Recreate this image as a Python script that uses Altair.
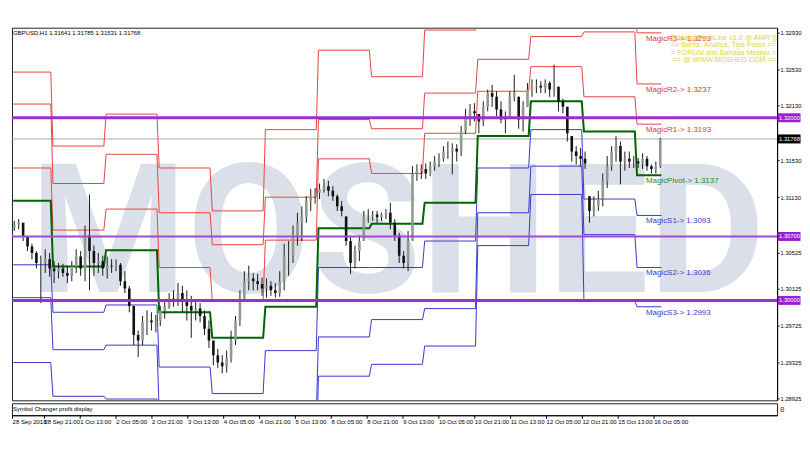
import altair as alt
import pandas as pd

# ---------------- data ----------------
title_text = "GBPUSD,H1  1.31641 1.31785 1.31531 1.31768"
watermark_text = "MOSHED"
info_lines = ["[[ MagicPivotLine v1.0 @ AMR ]]",
              "=> Berita, Analisa, Tips Forex <=",
              "= FORUM dlm Bahasa Melayu =",
              "=> @ WWW.MOSHED.COM <="]
subpanel_text = "Symbol Changer profit display"

x_tick_labels = ["28 Sep 2018", "28 Sep 21:00", "1 Oct 13:00", "2 Oct 05:00", "2 Oct 21:00",
                 "3 Oct 13:00", "4 Oct 05:00", "4 Oct 21:00", "5 Oct 13:00", "8 Oct 05:00",
                 "8 Oct 21:00", "9 Oct 13:00", "10 Oct 05:00", "10 Oct 21:00", "11 Oct 13:00",
                 "12 Oct 05:00", "12 Oct 21:00", "15 Oct 13:00", "16 Oct 05:00"]
bars_per_label = 16

y_tick_values = [1.32930, 1.32730, 1.32530, 1.32330, 1.32130, 1.31930, 1.31530, 1.31330,
                 1.31130, 1.30925, 1.30525, 1.30325, 1.30125, 1.29925, 1.29725, 1.29525,
                 1.29325, 1.29125, 1.28925]

current_price = 1.31768
thick_levels = [1.32000, 1.30000]
thin_levels = [1.30700]

# 2-hour candles (each covers two H1 bars)
candle_high = [1.3087, 1.3089, 1.3085, 1.3071, 1.3062, 1.3054, 1.3049, 1.3056, 1.3052, 1.3043,
               1.3041, 1.3040, 1.3038, 1.3043, 1.3056, 1.3054, 1.3082, 1.3116, 1.3060, 1.3052,
               1.3049, 1.3048, 1.3045, 1.3045, 1.3041, 1.3032, 1.3016, 1.2994, 1.2967, 1.2983,
               1.2989, 1.2987, 1.2984, 1.2994, 1.3000, 1.3008, 1.3011, 1.3019, 1.3016, 1.3011,
               1.3005, 1.3000, 1.2997, 1.2989, 1.2978, 1.2956, 1.2947, 1.2940, 1.2945, 1.2967,
               1.2983, 1.3011, 1.3032, 1.3038, 1.3030, 1.3029, 1.3025, 1.3024, 1.3021, 1.3019,
               1.3032, 1.3062, 1.3065, 1.3082, 1.3096, 1.3103, 1.3114, 1.3122, 1.3123, 1.3128,
               1.3133, 1.3131, 1.3125, 1.3116, 1.3109, 1.3092, 1.3071, 1.3060, 1.3071, 1.3098,
               1.3100, 1.3098, 1.3098, 1.3096, 1.3100, 1.3107, 1.3089, 1.3074, 1.3054, 1.3076,
               1.3147, 1.3149, 1.3149, 1.3150, 1.3152, 1.3158, 1.3161, 1.3169, 1.3174, 1.3172,
               1.3171, 1.3191, 1.3210, 1.3215, 1.3216, 1.3204, 1.3218, 1.3231, 1.3236, 1.3229,
               1.3218, 1.3207, 1.3229, 1.3247, 1.3223, 1.3218, 1.3238, 1.3242, 1.3242, 1.3240,
               1.3242, 1.3240, 1.3258, 1.3234, 1.3221, 1.3212, 1.3180, 1.3169, 1.3167, 1.3163,
               1.3114, 1.3114, 1.3120, 1.3139, 1.3158, 1.3169, 1.3180, 1.3174, 1.3163, 1.3163,
               1.3158, 1.3156, 1.3161, 1.3158, 1.3149, 1.3152, 1.3178]
candle_low = [1.3076, 1.3078, 1.3065, 1.3054, 1.3045, 1.3035, 1.2997, 1.3030, 1.3026, 1.3019,
              1.3024, 1.3026, 1.3019, 1.3021, 1.3030, 1.3027, 1.3021, 1.3011, 1.3027, 1.3030,
              1.3027, 1.3024, 1.3030, 1.3032, 1.3016, 1.3008, 1.2987, 1.2951, 1.2938, 1.2951,
              1.2962, 1.2967, 1.2965, 1.2972, 1.2980, 1.2991, 1.2993, 1.2994, 1.2987, 1.2978,
              1.2959, 1.2978, 1.2976, 1.2962, 1.2948, 1.2929, 1.2926, 1.2920, 1.2921, 1.2932,
              1.2951, 1.2972, 1.3000, 1.3011, 1.3011, 1.3011, 1.3005, 1.3003, 1.3005, 1.3003,
              1.3004, 1.3011, 1.3027, 1.3041, 1.3060, 1.3065, 1.3085, 1.3098, 1.3106, 1.3111,
              1.3118, 1.3114, 1.3109, 1.3098, 1.3092, 1.3060, 1.3029, 1.3035, 1.3043, 1.3065,
              1.3085, 1.3087, 1.3085, 1.3087, 1.3089, 1.3078, 1.3065, 1.3041, 1.3035, 1.3032,
              1.3065, 1.3131, 1.3133, 1.3133, 1.3136, 1.3142, 1.3146, 1.3152, 1.3155, 1.3138,
              1.3152, 1.3158, 1.3182, 1.3191, 1.3196, 1.3183, 1.3191, 1.3207, 1.3212, 1.3202,
              1.3194, 1.3183, 1.3199, 1.3218, 1.3188, 1.3185, 1.3212, 1.3223, 1.3227, 1.3227,
              1.3227, 1.3223, 1.3223, 1.3207, 1.3205, 1.3174, 1.3152, 1.3149, 1.3147, 1.3144,
              1.3085, 1.3092, 1.3098, 1.3103, 1.3123, 1.3142, 1.3152, 1.3127, 1.3142, 1.3145,
              1.3145, 1.3145, 1.3144, 1.3142, 1.3139, 1.3139, 1.3145]
candle_close = [1.3083, 1.3085, 1.3070, 1.3059, 1.3052, 1.3041, 1.3041, 1.3045, 1.3035, 1.3032,
                1.3035, 1.3030, 1.3027, 1.3037, 1.3048, 1.3035, 1.3071, 1.3054, 1.3041, 1.3043,
                1.3035, 1.3038, 1.3037, 1.3039, 1.3021, 1.3013, 1.2994, 1.2962, 1.2956, 1.2976,
                1.2978, 1.2976, 1.2978, 1.2989, 1.2993, 1.3002, 1.3000, 1.3008, 1.3000, 1.2994,
                1.2989, 1.2991, 1.2983, 1.2969, 1.2956, 1.2940, 1.2932, 1.2928, 1.2936, 1.2956,
                1.2978, 1.3002, 1.3021, 1.3024, 1.3021, 1.3018, 1.3013, 1.3016, 1.3011, 1.3008,
                1.3021, 1.3049, 1.3049, 1.3071, 1.3085, 1.3092, 1.3109, 1.3114, 1.3118, 1.3122,
                1.3125, 1.3120, 1.3114, 1.3103, 1.3098, 1.3065, 1.3041, 1.3054, 1.3065, 1.3092,
                1.3092, 1.3094, 1.3091, 1.3094, 1.3096, 1.3085, 1.3071, 1.3049, 1.3041, 1.3065,
                1.3139, 1.3142, 1.3144, 1.3139, 1.3147, 1.3152, 1.3155, 1.3163, 1.3163, 1.3166,
                1.3163, 1.3185, 1.3202, 1.3207, 1.3205, 1.3196, 1.3212, 1.3227, 1.3223, 1.3209,
                1.3198, 1.3202, 1.3223, 1.3227, 1.3198, 1.3212, 1.3231, 1.3234, 1.3235, 1.3233,
                1.3238, 1.3231, 1.3234, 1.3218, 1.3212, 1.3183, 1.3163, 1.3158, 1.3155, 1.3150,
                1.3098, 1.3103, 1.3111, 1.3131, 1.3147, 1.3163, 1.3169, 1.3152, 1.3155, 1.3152,
                1.3152, 1.3150, 1.3155, 1.3147, 1.3144, 1.3147, 1.31768]
first_open = 1.3080

# daily pivot levels (bar index where each day starts)
day_start = [0, 18, 42, 66, 90, 114, 138, 162, 186, 210, 234, 258, 282]
last_bar = 293
R3 = [1.3250, 1.3169, 1.3204, 1.3145, 1.3098, 1.3187, 1.3274, 1.3245, 1.3296, 1.3313, 1.3329, 1.3371, 1.3293]
R2 = [1.3215, 1.3128, 1.3160, 1.3096, 1.3061, 1.3113, 1.3198, 1.3188, 1.3227, 1.3264, 1.3289, 1.3294, 1.3237]
R1 = [1.3145, 1.3077, 1.3100, 1.3036, 1.3000, 1.3066, 1.3155, 1.3139, 1.3183, 1.3229, 1.3256, 1.3223, 1.3193]
PV = [1.3109, 1.3037, 1.3055, 1.2987, 1.2959, 1.2993, 1.3079, 1.3084, 1.3107, 1.3180, 1.3218, 1.3185, 1.3137]
S1 = [1.3039, 1.2987, 1.2995, 1.2927, 1.2898, 1.2945, 1.3036, 1.3036, 1.3065, 1.3145, 1.3187, 1.3111, 1.3093]
S2 = [1.3003, 1.2946, 1.2951, 1.2878, 1.2858, 1.2873, 1.2960, 1.2979, 1.2991, 1.3096, 1.3147, 1.3072, 1.3036]
S3 = [1.2932, 1.2895, 1.2892, 1.2817, 1.2797, 1.2825, 1.2917, 1.2930, 1.2950, 1.3060, 1.3116, 1.2999, 1.2993]

magic_names = ["R3", "R2", "R1", "Pivot", "S1", "S2", "S3"]
magic_values = [1.3293, 1.3237, 1.3193, 1.3137, 1.3093, 1.3036, 1.2993]
magic_groups = ["R", "R", "R", "P", "S", "S", "S"]

# ---------------- tables ----------------
n = len(candle_close)
opens = []
prev = first_open
for h, l, c in zip(candle_high, candle_low, candle_close):
    opens.append(min(max(prev, l), h))
    prev = c
candles = pd.DataFrame({
    "bar": [2 * i + 0.5 for i in range(n)],
    "high": candle_high, "low": candle_low, "close": candle_close, "open": opens,
})
candles["dir"] = ["up" if c >= o else "down" for o, c in zip(candles["open"], candles["close"])]

level_sets = {"R3": R3, "R2": R2, "R1": R1, "P": PV, "S1": S1, "S2": S2, "S3": S3}
rows = []
for name, vals in level_sets.items():
    for k, v in enumerate(vals):
        start = day_start[k]
        end = day_start[k + 1] - 1 if k + 1 < len(day_start) else last_bar
        rows.append({"level": name, "bar": start, "v": v})
        rows.append({"level": name, "bar": end, "v": v})
pivots = pd.DataFrame(rows)

magic = pd.DataFrame({
    "label": [f"Magic{nm}-> {v:.4f}" for nm, v in zip(magic_names, magic_values)],
    "v": magic_values, "grp": magic_groups, "bar": [last_bar - 7] * len(magic_values),
})

# ---------------- scales ----------------
PX_PER_BAR = 2.25
PLOT_W = 768
X_MIN = 1.72
X = alt.Scale(domain=[X_MIN, X_MIN + PLOT_W / PX_PER_BAR], nice=False, zero=False)
Y = alt.Scale(domain=[1.28906, 1.32986], nice=False, zero=False)
FONT = "Liberation Sans"

ticks_df = pd.DataFrame({"bar": [max(bars_per_label * k, X_MIN + 0.05) for k in range(len(x_tick_labels))],
                         "idx": list(range(len(x_tick_labels)))})

one = pd.DataFrame({"t": [0]})

def yv(field):
    return alt.Y(field, scale=Y, title=None)

def xb():
    return alt.X("bar:Q", scale=X, axis=None, title=None)

watermark = alt.Chart(one).mark_text(
    text=watermark_text, font="Roboto", fontWeight="bold", fontSize=180,
    color="#dadfe9", align="center", baseline="alphabetic"
).encode(x=alt.value(387), y=alt.value(265))

price_line = alt.Chart(pd.DataFrame({"v": [current_price]})).mark_rule(
    color="#a8a8a8", strokeWidth=1
).encode(y=alt.Y("v:Q", scale=Y, title=None, axis=alt.Axis(
    orient="right", values=y_tick_values, format=".5f", labelFont=FONT, labelFontSize=5.8,
    labelColor="black", tickColor="black", tickSize=2, labelPadding=1, domainColor="black",
    grid=False, labelOverlap=False, labelBound=False, title=None)))

def level_lines(names, color, width):
    return alt.Chart(pivots).transform_filter(
        alt.FieldOneOfPredicate(field="level", oneOf=names)
    ).mark_line(color=color, strokeWidth=width, clip=True).encode(
        x=xb(), y=yv("v:Q"), detail="level:N", order="bar:Q")

red_lines = level_lines(["R1", "R2", "R3"], "#ea4444", 1)
blue_lines = level_lines(["S1", "S2", "S3"], "#3a3ad0", 1)
green_line = level_lines(["P"], "#006400", 2)

wicks = alt.Chart(candles).mark_rule(color="#1c1c1c", strokeWidth=1, clip=True).encode(
    x=xb(), y=yv("low:Q"), y2="high:Q")

def body_layer(direction, color):
    return alt.Chart(candles).transform_filter(
        alt.FieldEqualPredicate(field="dir", equal=direction)
    ).mark_bar(size=2.6, clip=True, color=color).encode(
        x=xb(), y=yv("open:Q"), y2="close:Q")

bodies_up = body_layer("up", "#8e9c8e")
bodies_down = body_layer("down", "#111111")

purple_thick = alt.Chart(pd.DataFrame({"v": thick_levels})).mark_rule(
    color="#9a2fcf", strokeWidth=3).encode(y=yv("v:Q"))
purple_thin = alt.Chart(pd.DataFrame({"v": thin_levels})).mark_rule(
    color="#a24ad4", strokeWidth=2).encode(y=yv("v:Q"))

def magic_layer(grp, color):
    return alt.Chart(magic).transform_filter(
        alt.FieldEqualPredicate(field="grp", equal=grp)
    ).mark_text(align="left", baseline="middle", dy=6, font=FONT, fontSize=8, color=color).encode(
        x=xb(), y=yv("v:Q"), text="label:N")

magic_r = magic_layer("R", "#d93a3a")
magic_p = magic_layer("P", "#2a8a2a")
magic_s = magic_layer("S", "#3a3ac8")

info = alt.Chart(one).mark_text(
    text="\n".join(info_lines), lineBreak="\n", lineHeight=7.5, align="right",
    baseline="top", font=FONT, fontSize=7.3, color="#e3d33e"
).encode(x=alt.value(PLOT_W - 1), y=alt.value(6))

title = alt.Chart(one).mark_text(
    text=title_text, align="left", baseline="middle", font=FONT, fontSize=6, color="black"
).encode(x=alt.value(1), y=alt.value(5))

def box_layer(values, color):
    df = pd.DataFrame({"v": values})
    df["label"] = [f"{v:.5f}" for v in values]
    box = alt.Chart(df).mark_tick(thickness=9, size=23, color=color, opacity=1).encode(
        y=yv("v:Q"), x=alt.value(PLOT_W + 12))
    txt = alt.Chart(df).mark_text(
        align="left", baseline="middle", font=FONT, fontSize=5.8, color="white"
    ).encode(y=yv("v:Q"), x=alt.value(PLOT_W + 2), text="label:N")
    return box + txt

boxes_lvl = box_layer([1.32000, 1.30700, 1.30000], "#9a1fd0")
boxes_cur = box_layer([current_price], "#000000")

main = alt.layer(
    watermark, price_line, red_lines, blue_lines, green_line, wicks, bodies_up, bodies_down,
    purple_thick, purple_thin, magic_r, magic_p, magic_s, info, title, boxes_lvl, boxes_cur
).properties(width=PLOT_W, height=374)

label_expr = "[" + ",".join(f"'{t}'" for t in x_tick_labels) + f"][round(datum.value/{bars_per_label})]"

sub_axis = alt.Chart(ticks_df).mark_point(opacity=0).encode(
    x=alt.X("bar:Q", scale=X, title=None, axis=alt.Axis(
        values=list(ticks_df["bar"]), labelExpr=label_expr, labelAlign="left",
        labelBaseline="top", labelFont=FONT, labelFontSize=6, labelPadding=0,
        labelColor="black", tickSize=3, tickColor="black", domainColor="black",
        grid=False, labelOverlap=False, labelFlush=False, labelBound=False, title=None)))
sub_text = alt.Chart(one).mark_text(
    text=subpanel_text, align="left", baseline="middle", font=FONT, fontSize=6, color="black"
).encode(x=alt.value(1), y=alt.value(6))
sub_mark = alt.Chart(one).mark_text(
    text="8", align="left", baseline="middle", font=FONT, fontSize=8, color="#444444"
).encode(x=alt.value(PLOT_W + 3), y=alt.value(6.5))

sub = alt.layer(sub_axis, sub_text, sub_mark).properties(width=PLOT_W, height=12)

chart = alt.vconcat(main, sub, spacing=0).properties(
    padding={"left": 0, "top": 18, "right": 0, "bottom": 0},
    background="white"
).configure_view(stroke="#222222", strokeWidth=1)

chart.save("out.html", embed_options={"renderer": "svg", "actions": False})
